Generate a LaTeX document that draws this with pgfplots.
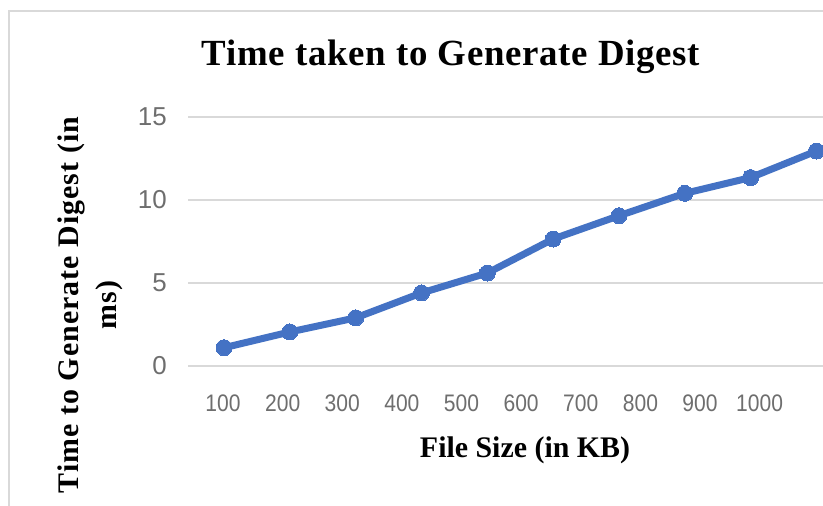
\documentclass[border=0pt]{standalone}
\usepackage{pgfplots}
\pgfplotsset{compat=1.18}
\usepackage{fontspec}
\setmainfont{Liberation Serif}
\newfontfamily\arial{Liberation Sans}
\definecolor{exblue}{HTML}{4472C4}
\definecolor{gridgray}{HTML}{D9D9D9}
\definecolor{ticklab}{HTML}{6E6E6E}
\newcommand{\xl}[1]{\scalebox{0.88}[1]{#1}}
\begin{document}
\begin{tikzpicture}
\useasboundingbox (0bp,0bp) rectangle (823bp,506bp);
\clip (0bp,0bp) rectangle (823bp,506bp);
\fill[white] (0bp,0bp) rectangle (823bp,506bp);
\draw[gridgray, line width=1.5bp] (9bp,-5bp) -- (9bp,495bp) -- (830bp,495bp);
\begin{axis}[
  at={(188bp,140bp)}, anchor=south west,
  scale only axis, width=635bp, height=249bp,
  xmin=0.453, xmax=10.1, ymin=0, ymax=15,
  ytick={0,5,10,15}, yticklabels={0,5,10,15},
  xtick={0.985,1.891,2.797,3.702,4.608,5.514,6.420,7.326,8.231,9.137},
  xticklabels={\xl{100},\xl{200},\xl{300},\xl{400},\xl{500},\xl{600},\xl{700},\xl{800},\xl{900},\xl{1000}},
  ymajorgrids, grid style={gridgray, line width=1.5bp},
  axis line style={draw=none},
  major tick length=0pt, tick style={draw=none},
  xticklabel style={font=\arial\fontsize{24}{24}\selectfont, text=ticklab, anchor=center, yshift=-37.5bp},
  yticklabel style={font=\arial\fontsize{26}{26}\selectfont, text=ticklab, anchor=east, inner sep=0pt, xshift=-21bp},
  clip=false,
]
\addplot[exblue, line width=7bp, mark=*, mark size=8bp, mark options={fill=exblue, draw=exblue, line width=0bp}]
  coordinates {(1,1.1) (2,2.05) (3,2.9) (4,4.4) (5,5.6) (6,7.65) (7,9.05) (8,10.4) (9,11.35) (10,12.95)};
\end{axis}
\node[anchor=base, font=\bfseries\fontsize{37}{37}\selectfont\addfontfeatures{LetterSpace=2}] at (451bp,440bp) {Time taken to Generate Digest};
\node[anchor=base, font=\bfseries\fontsize{30}{30}\selectfont] at (525bp,48bp) {File Size (in KB)};
\node[rotate=90, align=center, anchor=center, font=\bfseries\fontsize{30}{38}\selectfont\addfontfeatures{LetterSpace=3.5}] at (90bp,201bp) {Time to Generate Digest (in\\ms)};
\end{tikzpicture}
\end{document}
